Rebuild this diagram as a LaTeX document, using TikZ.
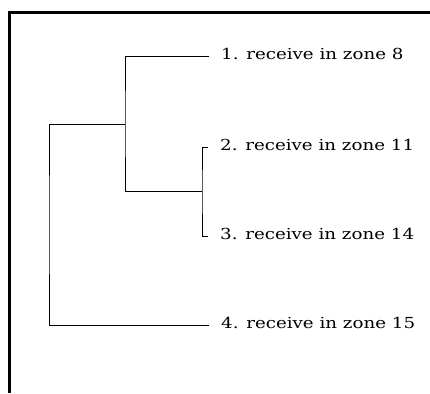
\documentclass[tikz,border=0pt]{standalone}
\usepackage{fontspec}
\newfontfamily\leaffont[FakeStretch=1.2]{DejaVu Serif}
\begin{document}
\begin{tikzpicture}[x=1pt,y=-1pt,
  leaf/.style={anchor=west,inner xsep=12pt,inner ysep=0pt,text height=10pt,text depth=4pt,
    font=\leaffont\fontsize{15.2pt}{18pt}\selectfont},
  branch/.style={draw=black,line width=1pt},
  frame/.style={draw=black,line width=3pt}]
\useasboundingbox (0,0) rectangle (430,393);
\fill[white] (0,0) rectangle (430,393);
\draw[frame] (9.5,393) -- (9.5,12.5) -- (430,12.5);
\node[leaf] (l1) at (209,57) {1. receive in zone 8};
\node[leaf] (l2) at (208,147) {2. receive in zone 11};
\node[leaf] (l3) at (208,236) {3. receive in zone 14};
\node[leaf] (l4) at (209,325) {4. receive in zone 15};
\coordinate (n2) at (202,191.5);
\coordinate (n1) at (125,124);
\coordinate (r) at (49,224.5);
\draw[branch] (l2.west) -| (n2) |- (l3.west);
\draw[branch] (l1.west) -| (n1) |- (n2);
\draw[branch] (n1) -| (r) |- (l4.west);
\end{tikzpicture}
\end{document}
